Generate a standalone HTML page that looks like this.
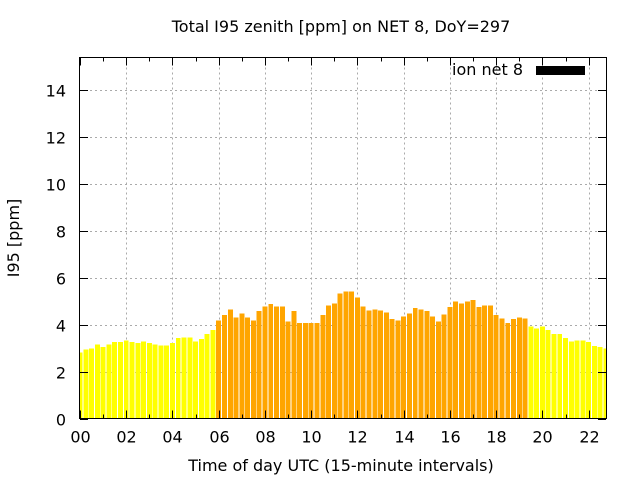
<!DOCTYPE html>
<html><head><meta charset="utf-8"><style>
body{margin:0;background:#fff}
svg{display:block;font-family:"DejaVu Sans","Liberation Sans",sans-serif}
</style></head><body>
<svg id="chart" width="640" height="480">
<text x="341" y="32" font-size="16" text-anchor="middle">Total I95 zenith [ppm] on NET 8, DoY=297</text>
<text x="341" y="471" font-size="16" text-anchor="middle">Time of day UTC (15-minute intervals)</text>
<text transform="translate(19,238) rotate(-90)" font-size="16" text-anchor="middle">I95 [ppm]</text>
<g id="grid"></g><g id="bars"></g><g id="ticks"></g>
<rect x="79.5" y="57.5" width="527" height="361" fill="none" stroke="#000"/>
<g>
<text x="523" y="75" font-size="16" text-anchor="end">ion net 8</text>
<rect x="536" y="66" width="49" height="9" fill="#000"/>
</g>
</svg>
<script>
const values=[2.82,2.95,2.99,3.16,3.04,3.16,3.25,3.25,3.33,3.25,3.21,3.29,3.21,3.16,3.12,3.12,3.21,3.42,3.46,3.46,3.29,3.38,3.59,3.76,
4.18,4.40,4.65,4.31,4.48,4.31,4.18,4.57,4.78,4.87,4.78,4.78,4.14,4.57,4.06,4.06,4.06,4.06,4.40,4.82,4.91,5.33,5.42,5.42,5.16,4.78,4.61,4.65,4.61,4.52,4.23,4.18,4.35,4.48,4.70,4.65,4.57,4.35,4.14,4.44,4.74,4.99,4.91,4.99,5.04,4.74,4.82,4.82,4.40,4.27,4.06,4.23,4.31,4.27,
3.93,3.84,3.93,3.76,3.59,3.59,3.42,3.29,3.33,3.33,3.25,3.08,3.04,2.99];
const yTicks=[0,2,4,6,8,10,12,14];
const xTickLabels=["00","02","04","06","08","10","12","14","16","18","20","22"];
const dayStart=6, dayEnd=19.25;
const L=80,R=606,T=57.5,B=418.5,XMAX=22.75,YMAX=15.38;
const sx=h=>L+(R-L)*h/XMAX, sy=v=>B-(B-T)*v/YMAX;
const NS="http://www.w3.org/2000/svg";
function mk(p,tag,a){const e=document.createElementNS(NS,tag);for(const k in a)e.setAttribute(k,a[k]);p.appendChild(e);return e;}
const grid=document.getElementById('grid'),bars=document.getElementById('bars'),ticks=document.getElementById('ticks');
const pitch=sx(0.25)-sx(0), bw=pitch*0.86;
values.forEach((v,i)=>{
 const h=i*0.25; let x=sx(h)-bw/2, w=bw;
 if(x<L){w-=L-x;x=L;} if(x+w>R){w=R-x;}
 const r=mk(bars,'rect',{x:x,y:sy(v),width:w,height:sy(0)-sy(v),fill:(h>=dayStart&&h<=dayEnd)?'#ffa500':'#ffff00','shape-rendering':'crispEdges'});
 
 
});
yTicks.forEach(t=>{
 const y=Math.round(sy(t))+0.5;
 if(t>0){const g=mk(grid,'line',{x1:L,x2:R,y1:y,y2:y,stroke:'#aaa','stroke-dasharray':'2,3'});
 }
 mk(ticks,'line',{x1:L,x2:L+8,y1:y,y2:y,stroke:'#000'});
 mk(ticks,'line',{x1:R-8,x2:R,y1:y,y2:y,stroke:'#000'});
 const tx=mk(ticks,'text',{x:L-14,y:y+6,'font-size':16,'text-anchor':'end'});tx.textContent=t;
 
 
});
xTickLabels.forEach((lab,i)=>{
 const h=i*2,x=Math.round(sx(h))+0.5;
 if(h>0){const g=mk(grid,'line',{x1:x,x2:x,y1:T,y2:B,stroke:'#aaa','stroke-dasharray':'2,3'});
 }
 mk(ticks,'line',{x1:x,x2:x,y1:B,y2:B-8,stroke:'#000'});
 mk(ticks,'line',{x1:x,x2:x,y1:T,y2:T+8,stroke:'#000'});
 const tx=mk(ticks,'text',{x:x,y:B+24,'font-size':16,'text-anchor':'middle'});tx.textContent=lab;
 
 
});
for(let h=1;h<XMAX;h+=2){const x=Math.round(sx(h))+0.5;
 mk(ticks,'line',{x1:x,x2:x,y1:B,y2:B-4,stroke:'#000'});
 mk(ticks,'line',{x1:x,x2:x,y1:T,y2:T+4,stroke:'#000'});}
</script>
</body></html>
